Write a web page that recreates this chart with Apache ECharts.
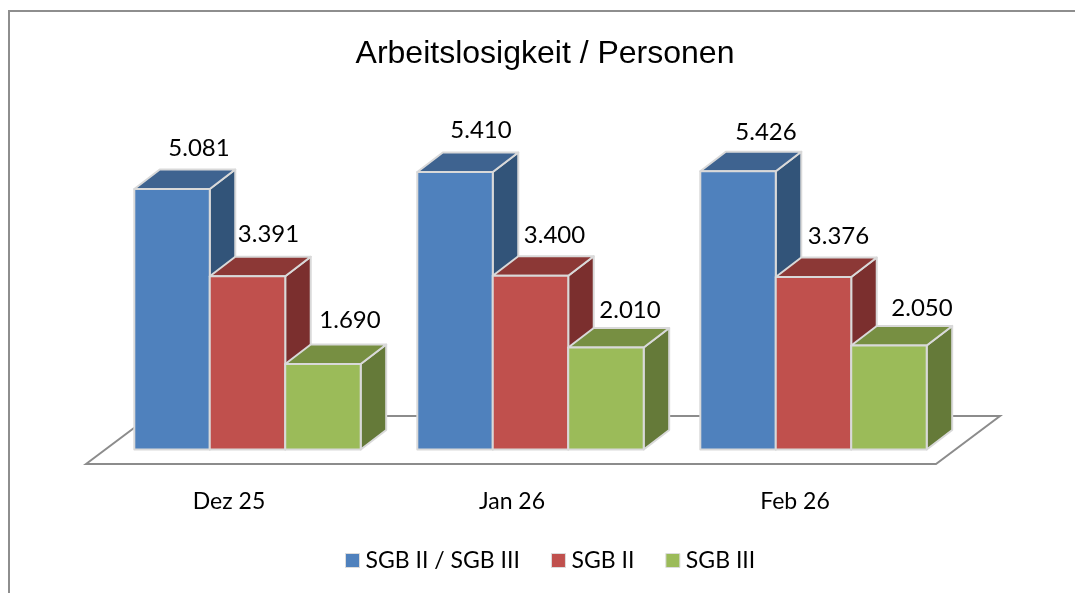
<!DOCTYPE html>
<html>
<head>
<meta charset="utf-8">
<style>html,body{margin:0;padding:0;background:#fff}#c{width:1075px;height:593px}</style>
<script src="https://cdn.jsdelivr.net/npm/echarts@6/dist/echarts.min.js"></script>
</head>
<body>
<div id="c"></div>
<script>
const chartTitle = 'Arbeitslosigkeit / Personen';
const categories = ['Dez 25', 'Jan 26', 'Feb 26'];
const seriesNames = ['SGB II / SGB III', 'SGB II', 'SGB III'];
const sgb2und3 = [5081, 5410, 5426];
const sgb2 = [3391, 3400, 3376];
const sgb3 = [1690, 2010, 2050];
const valueLabels = [['5.081', '5.410', '5.426'], ['3.391', '3.400', '3.376'], ['1.690', '2.010', '2.050']];

const allValues = [sgb2und3, sgb2, sgb3];
const faces = [
  { front: '#4f81bd', top: '#3e6390', side: '#325479' },
  { front: '#c0504d', top: '#8c3836', side: '#7b2f2e' },
  { front: '#9bbb59', top: '#778f42', side: '#657a39' }
];
const labelFont = 'Lato, Carlito, sans-serif';
const edge = '#d9d9d9';
const depthX = 25.5, depthY = 19.5;
const groupRatio = 0.8;
const baseLift = 1.7;
const labelShiftX = [[27, 26, 28], [21, 24, 25], [27, 24, 33]];
const labelShiftY = [[-40.5, -41.5, -38.5], [-41.5, -40.5, -40.5], [-43.5, -37.5, -37.5]];

function bar3d(s) {
  return function (params, api) {
    const idx = api.value(0);
    const base = api.coord([idx, 0]);
    const tip = api.coord([idx, api.value(1)]);
    const band = api.size([1, 0])[0];
    const w = band * groupRatio / 3;
    const x0 = base[0] - band * groupRatio / 2 + s * w;
    const x1 = x0 + w;
    const yb = base[1] - baseLift, yt = tip[1];
    const line = { stroke: edge, lineWidth: 2, lineJoin: 'round' };
    const poly = (points, fill) => ({ type: 'polygon', shape: { points }, style: Object.assign({ fill }, line) });
    return {
      type: 'group',
      children: [
        poly([[x1, yt], [x1 + depthX, yt - depthY], [x1 + depthX, yb - depthY], [x1, yb]], faces[s].side),
        poly([[x0, yt], [x0 + depthX, yt - depthY], [x1 + depthX, yt - depthY], [x1, yt]], faces[s].top),
        poly([[x0, yt], [x1, yt], [x1, yb], [x0, yb]], faces[s].front),
        {
          type: 'text',
          z2: 50,
          style: {
            text: valueLabels[s][idx],
            x: (x0 + x1) / 2 + labelShiftX[s][idx],
            y: yt + labelShiftY[s][idx],
            fill: '#000',
            font: '24px ' + labelFont,
            align: 'center',
            verticalAlign: 'middle'
          }
        }
      ]
    };
  };
}

function floorItem(params, api) {
  const first = api.coord([0, 0]);
  const band = api.size([1, 0])[0];
  const left = first[0] - band / 2;
  const right = left + band * categories.length;
  const y = first[1];
  return {
    type: 'polygon',
    shape: { points: [[left - 20, y + 12.8], [left + 44, y - 35.2], [right + 45, y - 35.2], [right - 19, y + 12.8]] },
    style: { fill: '#fff', stroke: '#8c8c8c', lineWidth: 2 }
  };
}

const series = [{
  type: 'custom', name: 'floor', renderItem: floorItem, data: [[0, 0]],
  encode: { x: 0, y: 1 }, clip: false, silent: true, z: 1
}];
seriesNames.forEach((name, s) => {
  series.push({
    type: 'custom', name,
    renderItem: bar3d(s),
    data: allValues[s].map((v, i) => [i, v]),
    encode: { x: 0, y: 1 },
    clip: false, z: 2 + s,
    itemStyle: { color: faces[s].front }
  });
});

const chart = echarts.init(document.getElementById('c'), null, { renderer: 'canvas' });
chart.setOption({
  animation: false,
  backgroundColor: '#fff',
  title: {
    text: chartTitle, left: 540, top: 33, textAlign: 'center',
    textStyle: { fontFamily: 'Liberation Sans', fontSize: 32, fontWeight: 'normal', color: '#000' }
  },
  graphic: [{
    type: 'rect', silent: true, z: -1,
    shape: { x: 9, y: 11, width: 1200, height: 800 },
    style: { fill: 'none', stroke: '#8e8e8e', lineWidth: 2 }
  }],
  grid: { left: 106, right: 120, top: 141.6, bottom: 141.8 },
  xAxis: {
    type: 'category', data: categories,
    axisLine: { show: false }, axisTick: { show: false },
    axisLabel: { margin: 39, color: '#000', fontFamily: labelFont, fontSize: 23, padding: [0, 37, 0, 0] }
  },
  yAxis: { type: 'value', min: 0, max: 6000, interval: 1000, show: false, splitLine: { show: false } },
  legend: {
    data: seriesNames, left: 340, top: 544, icon: 'rect',
    itemWidth: 14, itemHeight: 14, itemGap: 31,
    textStyle: { color: '#000', fontFamily: labelFont, fontSize: 23, padding: [0, 0, 0, 1] },
    itemStyle: { borderColor: '#dcdcdc', borderWidth: 1 }
  },
  series
});
</script>
</body>
</html>
